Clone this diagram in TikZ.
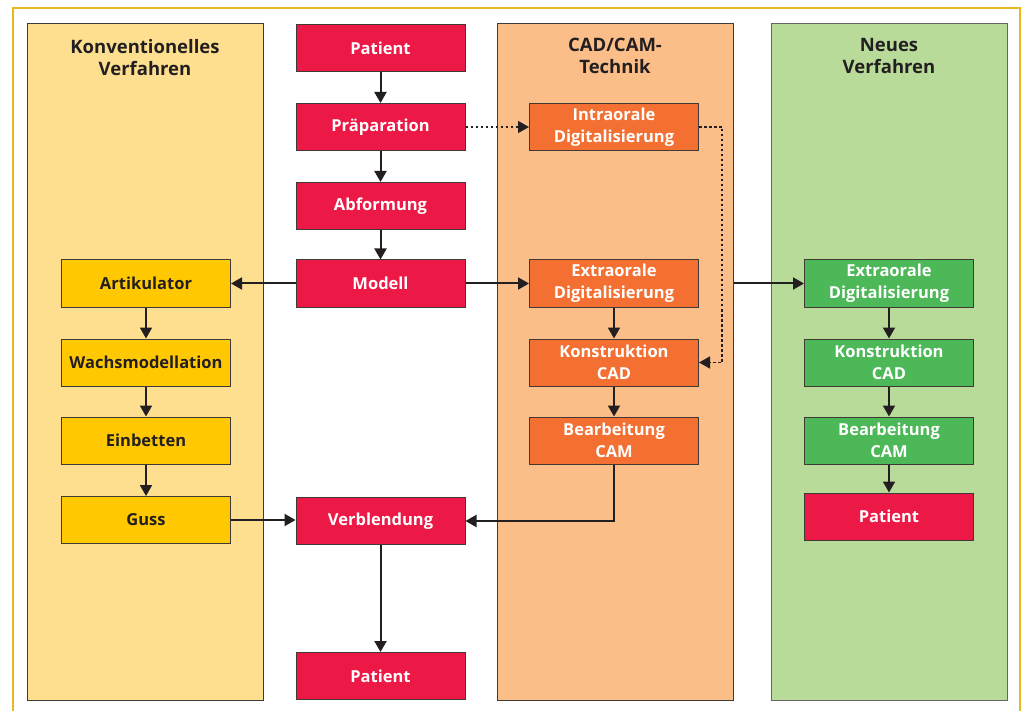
\documentclass[tikz,border=0pt]{standalone}
\usepackage{fontspec}
\setmainfont{Open Sans}
\usetikzlibrary{arrows.meta}
\definecolor{gold}{HTML}{E9B71E}
\definecolor{ybg}{HTML}{FDDF8F}
\definecolor{obg}{HTML}{FBBE88}
\definecolor{gbg}{HTML}{B9DB9A}
\definecolor{crim}{HTML}{EC1846}
\definecolor{ybox}{HTML}{FFC800}
\definecolor{obox}{HTML}{F37032}
\definecolor{gbox}{HTML}{4DB857}
\definecolor{ink}{HTML}{231F20}
\definecolor{edge}{HTML}{3F3A36}
\begin{document}
\begin{tikzpicture}[x=1pt,y=-1pt,
  panel/.style={draw=edge, line width=1pt, minimum width=236pt, minimum height=676pt, inner sep=0pt},
  head/.style={font=\bfseries\fontsize{18.5}{22}\selectfont, text=ink, align=center},
  box/.style={draw=edge, line width=1pt, minimum width=169pt, minimum height=47pt, inner sep=0pt,
    font=\bfseries\fontsize{16.5}{22}\selectfont, align=center, text=white},
  rbox/.style={box, fill=crim},
  ybx/.style={box, fill=ybox, text=ink},
  obx/.style={box, fill=obox},
  gbx/.style={box, fill=gbox},
  arr/.style={draw=ink, line width=2pt, -{Triangle[length=11pt,width=12pt]}},
  dot/.style={draw=ink, line width=1.5pt, dash pattern=on 2.5pt off 2.5pt, -{Triangle[length=11pt,width=12pt]}}
]
\useasboundingbox (0,0) rectangle (1025,711);
\clip (0,0) rectangle (1025,711);
\fill[white] (0,0) rectangle (1025,711);
\draw[gold, line width=2.8pt] (13,8) rectangle (1020,740);
% panels
\node[panel, fill=ybg] (pconv) at (145,362) {};
\node[panel, fill=obg] (pcad) at (615,362) {};
\node[panel, fill=gbg, draw=gray!80!black] (pneu) at (889,362) {};
\node[head] (hconv) at (145,58) {Konventionelles\\Verfahren};
\node[head] (hcad) at (615,56) {CAD/CAM-\\Technik};
\node[head] (hneu) at (889,56) {Neues\\Verfahren};
% middle column
\node[rbox] (pat1) at (380.5,48) {Patient};
\node[rbox] (prep) at (380.5,127) {Präparation};
\node[rbox] (abf) at (380.5,206) {Abformung};
\node[rbox] (mod) at (380.5,283.5) {Modell};
\node[rbox] (verb) at (380.5,521) {Verblendung};
\node[rbox] (pat2) at (380.5,676) {Patient};
% left column
\node[ybx] (art) at (146,283.5) {Artikulator};
\node[ybx] (wachs) at (146,362.5) {Wachsmodellation};
\node[ybx] (einb) at (146,440.5) {Einbetten};
\node[ybx] (guss) at (146,520) {Guss};
% CAD/CAM column
\node[obx] (intra) at (614,127) {Intraorale\\Digitalisierung};
\node[obx] (extra) at (614,283.5) {Extraorale\\Digitalisierung};
\node[obx] (kons) at (614,362.5) {Konstruktion\\CAD};
\node[obx] (bear) at (614,440.5) {Bearbeitung\\CAM};
% new column
\node[gbx] (gextra) at (889,283.5) {Extraorale\\Digitalisierung};
\node[gbx] (gkons) at (889,362.5) {Konstruktion\\CAD};
\node[gbx] (gbear) at (889,440.5) {Bearbeitung\\CAM};
\node[rbox] (pat3) at (889,516.5) {Patient};
\coordinate (c1) at (722,127);
\coordinate (c2) at (722,362.5);
% connectors
\draw[arr] (pat1) -- (prep);
\draw[arr] (prep) -- (abf);
\draw[arr] (abf) -- (mod);
\draw[arr] (mod) -- (art);
\draw[arr] (mod) -- (extra);
\draw[arr] (art) -- (wachs);
\draw[arr] (wachs) -- (einb);
\draw[arr] (einb) -- (guss);
\draw[arr] (guss.east) -- (guss.east -| verb.west);
\draw[arr] (verb) -- (pat2);
\draw[arr] (extra) -- (kons);
\draw[arr] (kons) -- (bear);
\draw[arr] (bear.south) |- (verb.east);
\draw[arr] (pcad.east |- mod) -- (gextra.west);
\draw[arr] (gextra) -- (gkons);
\draw[arr] (gkons) -- (gbear);
\draw[arr] (gbear) -- (pat3);
\draw[dot] (prep) -- (intra);
\draw[dot] (intra.east) -- (c1) -- (c2) -- (kons.east);
\end{tikzpicture}
\end{document}
